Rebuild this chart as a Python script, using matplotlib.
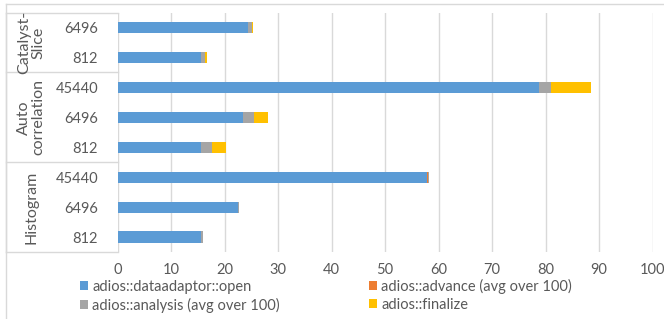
import matplotlib.pyplot as plt
from matplotlib.lines import Line2D

plt.rcParams['font.family'] = ['Lato', 'DejaVu Sans']

# bottom to top
groups = ["Histogram", "Auto\ncorrelation", "Catalyst-\nSlice"]
group_sizes = [3, 3, 2]
categories = ["812", "6496", "45440", "812", "6496", "45440", "812", "6496"]

open_t = [15.6, 22.5, 57.9, 15.6, 23.5, 78.7, 15.6, 24.4]
advance_t = [0.1, 0.1, 0.1, 0.05, 0.05, 0.05, 0.05, 0.05]
analysis_t = [0.2, 0.2, 0.2, 2.1, 1.9, 2.3, 0.7, 0.6]
finalize_t = [0.0, 0.0, 0.0, 2.5, 2.7, 7.5, 0.3, 0.3]

series = [
    ("adios::dataadaptor::open", open_t, "#5B9BD5"),
    ("adios::advance (avg over 100)", advance_t, "#ED7D31"),
    ("adios::analysis (avg over 100)", analysis_t, "#A5A5A5"),
    ("adios::finalize", finalize_t, "#FFC000"),
]

W, H = 664, 319
fig = plt.figure(figsize=(W / 100, H / 100), dpi=100)
ax_l, ax_r, ax_t, ax_b = 117.5, 652.5, 12.5, 252
ax = fig.add_axes([ax_l / W, 1 - ax_b / H, (ax_r - ax_l) / W, (ax_b - ax_t) / H])

text_col = "#595959"
grid_col = "#D9D9D9"

y = list(range(len(categories)))
left = [0.0] * len(categories)
handles = []
for name, vals, col in series:
    b = ax.barh(y, vals, left=left, height=0.37, color=col, label=name, zorder=3)
    handles.append(b)
    left = [l + v for l, v in zip(left, vals)]

ax.set_xlim(0, 100)
ax.set_ylim(-0.5, len(categories) - 0.5)
ax.set_xticks(range(0, 101, 10))
ax.set_yticks(y)
ax.set_yticklabels(categories)
ax.tick_params(axis='both', length=0, colors=text_col, labelsize=10.5)
ax.tick_params(axis='y', pad=14)
ax.tick_params(axis='x', pad=8)
ax.grid(axis='x', color=grid_col, linewidth=1, zorder=0)
for s in ax.spines.values():
    s.set_visible(False)

# multi-level category axis: separators and group labels
def fx(px):
    return px / W

def fy(py):
    return 1 - py / H

bounds = [0]
for n in group_sizes:
    bounds.append(bounds[-1] + n)
row_h = (ax_b - ax_t) / len(categories)
for b in bounds:
    py = ax_b - b * row_h
    fig.add_artist(Line2D([fx(5.5), fx(ax_l)], [fy(py), fy(py)], color=grid_col, lw=1))
fig.add_artist(Line2D([fx(5.5), fx(5.5)], [fy(ax_t), fy(ax_b)], color=grid_col, lw=1))
for i, g in enumerate(groups):
    mid = ax_b - (bounds[i] + bounds[i + 1]) / 2 * row_h
    fig.text(fx(31), fy(mid), g, rotation=90, ha='center', va='center',
             color=text_col, fontsize=11.5, linespacing=1.0)

# chart border
fig.add_artist(Line2D([fx(5.5), 1], [fy(4), fy(4)], color=grid_col, lw=1))
fig.add_artist(Line2D([fx(5.5), fx(5.5)], [fy(4), 0], color=grid_col, lw=1))

# legend filled row by row like the reference
order = [0, 2, 1, 3]
fig.legend(handles=[handles[i] for i in order], loc='upper left',
           bbox_to_anchor=(fx(80), fy(278.5)),
           ncol=2, frameon=False, fontsize=10.5, handlelength=0.55, handleheight=0.55,
           handletextpad=0.3, columnspacing=6.1, labelspacing=0.3,
           labelcolor=text_col, borderpad=0, borderaxespad=0)

fig.savefig("out.png", dpi=100)
